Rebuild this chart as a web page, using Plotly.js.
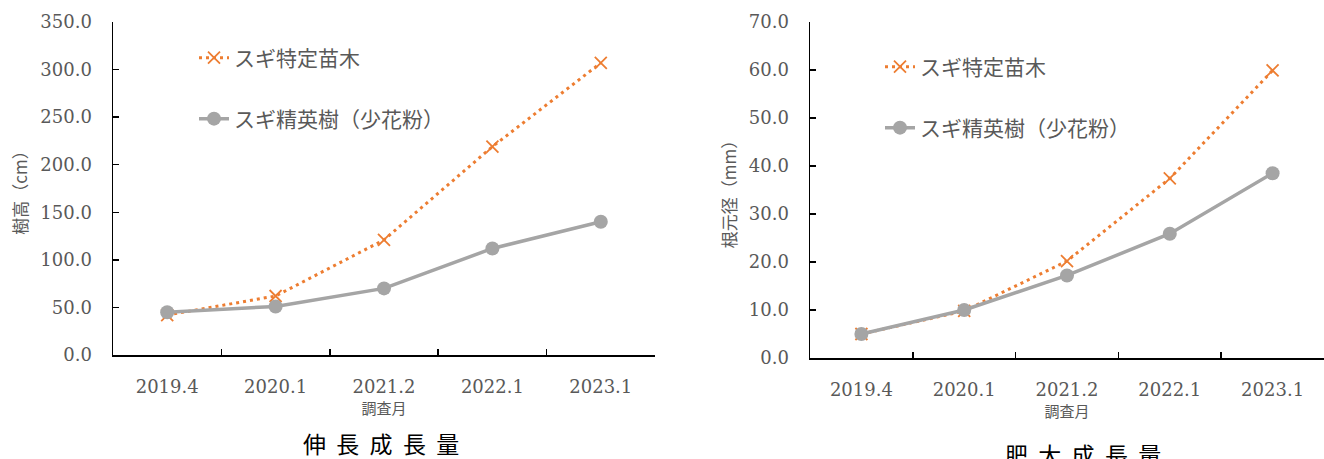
<!DOCTYPE html>
<html>
<head>
<meta charset="utf-8">
<script src="https://cdn.plot.ly/plotly-3.0.1.min.js"></script>
<style>html,body{margin:0;padding:0;background:#fff;}#chart{width:1324px;height:459px;}</style>
</head>
<body>
<div id="chart"></div>
<script>
// ---- data ----
const categories = ['2019.4', '2020.1', '2021.2', '2022.1', '2023.1'];
const seriesNames = ['スギ特定苗木', 'スギ精英樹（少花粉）'];
const heightTokutei = [42, 62, 121, 219, 307];      // 樹高 (cm)
const heightSeieiju = [45, 51, 70, 112, 140];
const diamTokutei = [5.0, 9.8, 20.2, 37.4, 59.9];   // 根元径 (mm)
const diamSeieiju = [5.0, 10.0, 17.2, 25.9, 38.5];
const chartTitles = ['伸  長  成  長  量', '肥  大  成  長  量'];
const xTitle = '調査月';
const yTitles = ['樹高（cm）', '根元径（mm）'];

const ORANGE = '#ED7D31', GRAY = '#A5A5A5', TXT = '#595959';
const CJK = '"Noto Sans CJK JP", "Noto Sans", sans-serif';
const SERIF = '"DejaVu Serif", serif';

function orangeTrace(y, xa, ya, lg) {
  return {x: categories, y: y, xaxis: xa, yaxis: ya, name: seriesNames[0], legend: lg,
    type: 'scatter', mode: 'lines+markers',
    line: {color: ORANGE, width: 3, dash: '3px,4px'},
    marker: {symbol: 'x-thin-open', size: 12, line: {color: ORANGE, width: 1.8}, color: ORANGE},
    hoverinfo: 'y'};
}
function grayTrace(y, xa, ya, lg) {
  return {x: categories, y: y, xaxis: xa, yaxis: ya, name: seriesNames[1], legend: lg,
    type: 'scatter', mode: 'lines+markers',
    line: {color: GRAY, width: 3.5},
    marker: {symbol: 'circle', size: 14, color: GRAY},
    hoverinfo: 'y'};
}

const traces = [
  orangeTrace(heightTokutei, 'x', 'y', 'legend'),
  grayTrace(heightSeieiju, 'x', 'y', 'legend2'),
  orangeTrace(diamTokutei, 'x2', 'y2', 'legend3'),
  grayTrace(diamSeieiju, 'x2', 'y2', 'legend4')
];

function xAxis(domain, anchor) {
  return {domain: domain, anchor: anchor, type: 'category',
    range: [-0.5, categories.length - 0.5], autorange: false,
    showline: true, linecolor: '#000', linewidth: 1.5, mirror: false,
    ticks: 'inside', ticklen: 6, tickwidth: 1.5, tickcolor: '#000', tickson: 'boundaries',
    showgrid: false, zeroline: false, ticklabelstandoff: 15,
    tickfont: {family: SERIF, size: 18, color: TXT},
    title: {text: xTitle, font: {family: CJK, size: 15, color: TXT}, standoff: 5}};
}
function yAxis(domain, anchor, max, dtick, title) {
  return {domain: domain, anchor: anchor, range: [0, max], dtick: dtick, tickformat: '.1f',
    showline: true, linecolor: '#000', linewidth: 1.5,
    ticks: 'inside', ticklen: 6, tickwidth: 1.5, tickcolor: '#000',
    showgrid: false, zeroline: false, ticklabelstandoff: 16,
    tickfont: {family: SERIF, size: 18, color: TXT},
    title: {text: title, font: {family: CJK, size: 17, color: TXT}, standoff: 8}};
}

function legendAt(x, y) {
  return {x: x, y: y, xref: 'paper', yref: 'paper', xanchor: 'left', yanchor: 'middle',
    bgcolor: 'rgba(0,0,0,0)', borderwidth: 0,
    font: {family: CJK, size: 21, color: TXT}};
}

const layout = {
  width: 1324, height: 459,
  margin: {l: 0, r: 0, t: 0, b: 0},
  paper_bgcolor: '#fff', plot_bgcolor: '#fff',
  showlegend: true,
  xaxis: xAxis([113/1324, 655/1324], 'y'),
  yaxis: yAxis([1 - 355/459, 1 - 22/459], 'x', 350, 50, yTitles[0]),
  xaxis2: xAxis([810/1324, 1], 'y2'),
  yaxis2: yAxis([1 - 358/459, 1 - 22/459], 'x2', 70, 10, yTitles[1]),
  legend: legendAt(194/1324, 1 - 58/459),
  legend2: legendAt(194/1324, 1 - 119/459),
  legend3: legendAt(880/1324, 1 - 67/459),
  legend4: legendAt(880/1324, 1 - 128/459),
  annotations: [
    {text: chartTitles[0], xref: 'paper', yref: 'paper', x: 381/1324, y: 1 - 443/459,
     xanchor: 'center', yanchor: 'middle', showarrow: false,
     font: {family: CJK, size: 23, color: '#000'}},
    {text: chartTitles[1], xref: 'paper', yref: 'paper', x: 1083/1324, y: 1 - 454/459,
     xanchor: 'center', yanchor: 'middle', showarrow: false,
     font: {family: CJK, size: 23, color: '#000'}}
  ]
};

Plotly.newPlot('chart', traces, layout, {displayModeBar: false, staticPlot: true});
</script>
</body>
</html>
